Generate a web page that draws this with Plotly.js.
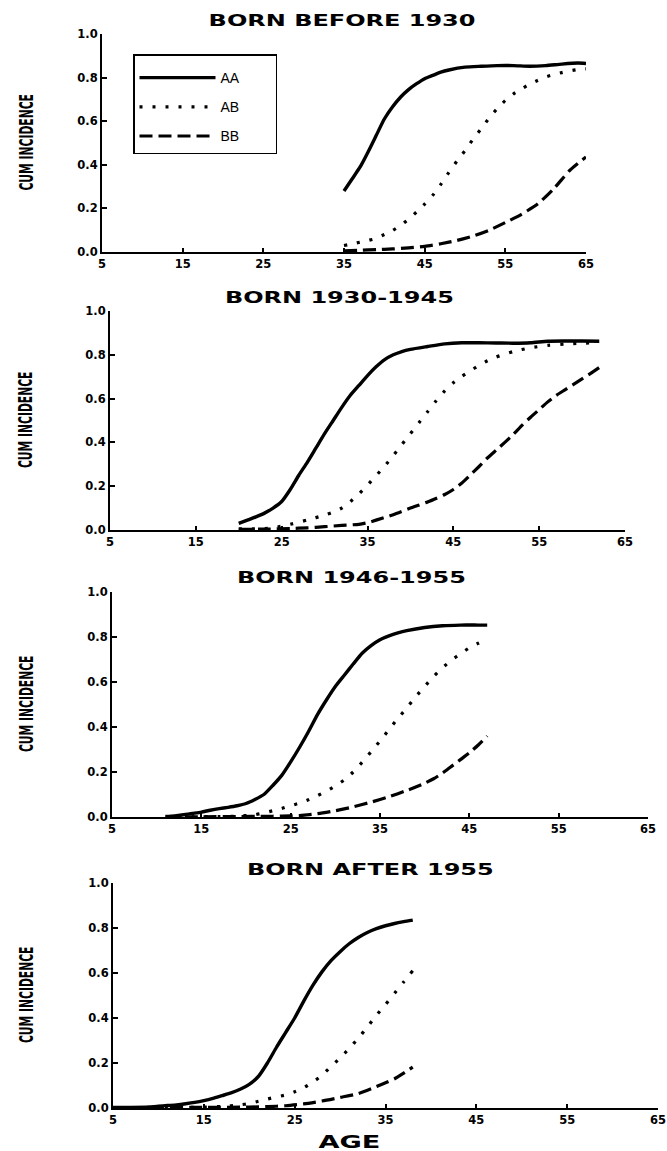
<!DOCTYPE html>
<html>
<head>
<meta charset="utf-8">
<script src="https://cdn.plot.ly/plotly-3.0.1.min.js"></script>
<style>
html, body { margin: 0; padding: 0; background: #ffffff; }
#chart { width: 667px; height: 1151px; }
</style>
</head>
<body>
<div id="chart"></div>
<script>
// ---------------- DATA ----------------
const panelTitles = ["BORN BEFORE 1930", "BORN 1930-1945", "BORN 1946-1955", "BORN AFTER 1955"];
const seriesNames = ["AA", "AB", "BB"];
const xTickVals = [5, 15, 25, 35, 45, 55, 65];
const yTickVals = [0, 0.2, 0.4, 0.6, 0.8, 1.0];
const yAxisLabel = "CUM INCIDENCE";
const xAxisLabel = "AGE";

// Panel 1: born before 1930
const p1AgeAA = [35,36,37,38,39,40,41,42,43,44,45,46,47,48,50,52,54,56,58,60,62,64,65];
const p1AA    = [0.28,0.335,0.39,0.46,0.535,0.61,0.665,0.71,0.745,0.772,0.795,0.81,0.825,0.835,0.848,0.852,0.855,0.855,0.852,0.855,0.862,0.867,0.865];
const p1AgeAB = [35,36,37,38,39,40,41,42,43,44,45,46,47,48,49,50,51,52,53,54,55,56,57,58,59,60,61,62,63,64,65];
const p1AB    = [0.03,0.037,0.045,0.053,0.063,0.08,0.098,0.122,0.15,0.184,0.22,0.26,0.31,0.365,0.417,0.465,0.518,0.565,0.615,0.658,0.695,0.725,0.748,0.77,0.787,0.803,0.814,0.823,0.831,0.837,0.84];
const p1AgeBB = [35,37,39,41,43,45,47,49,51,53,55,57,59,61,63,65];
const p1BB    = [0.005,0.008,0.011,0.014,0.019,0.026,0.038,0.053,0.073,0.1,0.135,0.173,0.22,0.29,0.375,0.436];

// Panel 2: born 1930-1945
const p2AgeAA = [20,21,22,23,24,25,26,27,28,29,30,31,32,33,34,35,36,37,38,39,40,42,44,46,48,50,52,54,56,58,60,62];
const p2AA    = [0.03,0.045,0.06,0.077,0.1,0.13,0.185,0.25,0.31,0.375,0.44,0.5,0.56,0.615,0.66,0.705,0.745,0.778,0.8,0.815,0.825,0.838,0.85,0.855,0.855,0.854,0.853,0.855,0.862,0.863,0.863,0.862];
const p2AgeAB = [20,22,24,26,28,30,31,32,33,34,35,36,37,38,39,40,41,42,43,44,45,46,47,48,49,50,52,54,56,58,60,62];
const p2AB    = [0.005,0.005,0.01,0.026,0.046,0.068,0.082,0.1,0.13,0.165,0.205,0.248,0.292,0.34,0.39,0.44,0.49,0.54,0.59,0.635,0.672,0.702,0.727,0.752,0.773,0.79,0.815,0.832,0.843,0.849,0.853,0.855];
const p2AgeBB = [20,23,26,28,30,32,34,35,36,38,40,42,44,45,46,47,48,49,50,51,52,53,54,55,56,57,58,59,60,61,62];
const p2BB    = [0.003,0.004,0.007,0.01,0.015,0.021,0.026,0.033,0.045,0.07,0.1,0.128,0.162,0.185,0.215,0.252,0.29,0.33,0.365,0.4,0.437,0.478,0.515,0.55,0.585,0.615,0.64,0.665,0.69,0.715,0.742];

// Panel 3: born 1946-1955
const p3AgeAA = [11,12,13,14,15,16,17,18,19,20,21,22,23,24,25,26,27,28,29,30,31,32,33,34,35,36,37,38,40,42,44,46,47];
const p3AA    = [0.002,0.005,0.01,0.016,0.022,0.03,0.037,0.043,0.05,0.06,0.078,0.1,0.14,0.185,0.245,0.31,0.38,0.455,0.52,0.58,0.63,0.68,0.728,0.762,0.788,0.805,0.818,0.828,0.842,0.85,0.853,0.853,0.853];
const p3AgeAB = [11,14,17,19,21,22,23,24,25,26,27,28,29,30,31,32,33,34,35,36,37,38,39,40,41,42,43,44,45,46,47];
const p3AB    = [0.001,0.001,0.002,0.004,0.01,0.018,0.028,0.038,0.05,0.062,0.077,0.095,0.115,0.138,0.165,0.2,0.243,0.29,0.338,0.388,0.438,0.485,0.535,0.58,0.625,0.663,0.697,0.725,0.752,0.772,0.788];
const p3AgeBB = [11,15,19,22,24,26,28,30,32,34,36,38,40,41,42,43,44,45,46,47];
const p3BB    = [0.001,0.001,0.002,0.003,0.004,0.006,0.015,0.028,0.045,0.066,0.09,0.118,0.15,0.17,0.195,0.225,0.255,0.285,0.32,0.36];

// Panel 4: born after 1955
const p4AgeAA = [5,7,9,10,11,12,13,14,15,16,17,18,19,20,21,22,23,24,25,26,27,28,29,30,31,32,33,34,35,36,37,38];
const p4AA    = [0.003,0.003,0.005,0.008,0.011,0.014,0.019,0.025,0.033,0.043,0.055,0.067,0.083,0.105,0.14,0.2,0.27,0.335,0.4,0.475,0.545,0.605,0.655,0.695,0.73,0.758,0.78,0.797,0.81,0.82,0.828,0.835];
const p4AgeAB = [5,8,11,13,15,17,19,20,21,22,23,24,25,26,27,28,29,30,31,32,33,34,35,36,37,38];
const p4AB    = [0.001,0.001,0.002,0.003,0.004,0.007,0.014,0.02,0.03,0.04,0.049,0.058,0.072,0.09,0.115,0.145,0.185,0.222,0.265,0.31,0.36,0.412,0.46,0.51,0.56,0.61];
const p4AgeBB = [5,10,15,20,22,24,26,28,30,32,34,35,36,37,38];
const p4BB    = [0.001,0.002,0.003,0.004,0.006,0.01,0.018,0.031,0.047,0.064,0.095,0.112,0.13,0.155,0.182];

const panelAges = [[p1AgeAA,p1AgeAB,p1AgeBB],[p2AgeAA,p2AgeAB,p2AgeBB],[p3AgeAA,p3AgeAB,p3AgeBB],[p4AgeAA,p4AgeAB,p4AgeBB]];
const panelVals = [[p1AA,p1AB,p1BB],[p2AA,p2AB,p2BB],[p3AA,p3AB,p3BB],[p4AA,p4AB,p4BB]];

// ---------------- LAYOUT (pixels) ----------------
const W = 667, H = 1151;
// [left, right, top, bottom] of each plot area in px
const boxes = [
  [102, 586, 34, 252],
  [110, 625, 311, 530],
  [112, 648, 592, 817],
  [113, 658, 883, 1108]
];
const titlePos = [[342, 21], [339, 297], [351, 577], [370, 869]];
const yTitleX = 26;

const lineStyles = [
  {color: '#000', width: 3.4, dash: 'solid'},
  {color: '#000', width: 3.2, dash: '3px,10px'},
  {color: '#000', width: 3.2, dash: '13px,6px'}
];

const traces = [];
for (let p = 0; p < 4; p++) {
  const sfx = p === 0 ? '' : String(p + 1);
  for (let s = 0; s < 3; s++) {
    traces.push({
      type: 'scatter', mode: 'lines',
      x: panelAges[p][s], y: panelVals[p][s],
      xaxis: 'x' + sfx, yaxis: 'y' + sfx,
      name: seriesNames[s],
      legendgroup: seriesNames[s],
      showlegend: p === 0,
      line: Object.assign({shape: 'spline', smoothing: 0.6}, lineStyles[s]),
      hoverinfo: 'skip'
    });
  }
}

// invisible spacer title widens the legend box to the reference size
const legendSpacer = '&nbsp;'.repeat(98);

const tickFont = {family: 'DejaVu Sans, sans-serif', size: 11.5, color: '#000', weight: 'bold'};
const layout = {
  width: W, height: H,
  margin: {l: 0, r: 0, t: 0, b: 0},
  paper_bgcolor: '#fff', plot_bgcolor: '#fff',
  showlegend: true,
  legend: {
    x: 133 / W, y: 1 - 54 / H, xanchor: 'left', yanchor: 'top',
    bgcolor: '#fff', bordercolor: '#000', borderwidth: 1.5,
    font: {family: 'Liberation Sans, Arial, sans-serif', size: 14, color: '#000'},
    title: {text: legendSpacer, font: {size: 5}},
    itemwidth: 76, tracegroupgap: 8
  },
  annotations: [],
  font: {family: 'DejaVu Sans, sans-serif', color: '#000'}
};

for (let p = 0; p < 4; p++) {
  const sfx = p === 0 ? '' : String(p + 1);
  const b = boxes[p];
  layout['xaxis' + sfx] = {
    domain: [b[0] / W, b[1] / W], anchor: 'y' + sfx,
    range: [5, 65], tickvals: xTickVals, ticktext: xTickVals.map(String),
    ticks: 'inside', ticklen: 4, tickwidth: 2, tickcolor: '#000',
    showline: true, linecolor: '#000', linewidth: 2,
    showgrid: false, zeroline: false, tickfont: tickFont, fixedrange: true
  };
  layout['yaxis' + sfx] = {
    domain: [1 - b[3] / H, 1 - b[2] / H], anchor: 'x' + sfx,
    range: [0, 1], tickvals: yTickVals, ticktext: yTickVals.map(v => v.toFixed(1)),
    ticks: 'inside', ticklen: 5, tickwidth: 2, tickcolor: '#000',
    showline: true, linecolor: '#000', linewidth: 2,
    showgrid: false, zeroline: false, tickfont: tickFont, fixedrange: true
  };
  // panel title
  layout.annotations.push({
    text: panelTitles[p], xref: 'paper', yref: 'paper',
    x: titlePos[p][0] / W, y: 1 - titlePos[p][1] / H,
    xanchor: 'center', yanchor: 'middle', showarrow: false,
    font: {family: 'DejaVu Sans, sans-serif', size: 16, color: '#000', weight: 'bold'}
  });
}
// y-axis titles
for (let p = 0; p < 4; p++) {
  const b = boxes[p];
  layout.annotations.push({
    text: yAxisLabel, xref: 'paper', yref: 'paper',
    x: yTitleX / W, y: 1 - ((b[2] + b[3]) / 2) / H,
    xanchor: 'center', yanchor: 'middle', showarrow: false, textangle: -90,
    font: {family: 'Liberation Sans Narrow, DejaVu Sans Condensed, sans-serif', size: 19, color: '#000', weight: 'bold'}
  });
}
// x-axis title (bottom)
layout.annotations.push({
  text: xAxisLabel, xref: 'paper', yref: 'paper',
  x: 349 / W, y: 1 - 1142 / H,
  xanchor: 'center', yanchor: 'middle', showarrow: false,
  font: {family: 'DejaVu Sans, sans-serif', size: 17, color: '#000', weight: 'bold'}
});

// horizontal stretch per annotation (titles extended, y-labels condensed)
const annStretch = [1.5, 1.5, 1.5, 1.5, 0.63, 0.63, 0.63, 0.63, 1.6];

const gd = document.getElementById('chart');
Plotly.newPlot(gd, traces, layout, {staticPlot: true, displayModeBar: false}).then(function () {
  gd.querySelectorAll('g.annotation').forEach(function (g) {
    const idx = parseInt(g.getAttribute('data-index'), 10);
    const t = g.querySelector('text.annotation-text');
    if (t && !isNaN(idx) && annStretch[idx]) {
      t.style.transformBox = 'fill-box';
      t.style.transformOrigin = 'center';
      t.style.transform = 'scaleX(' + annStretch[idx] + ')';
    }
  });
});
</script>
</body>
</html>
